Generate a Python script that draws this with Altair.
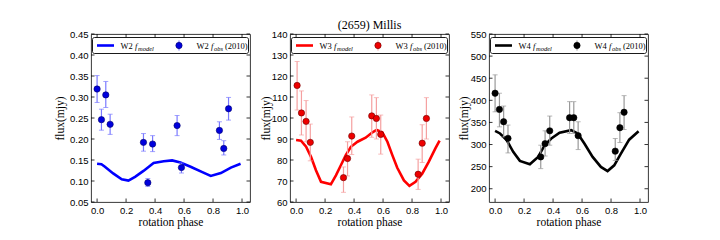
import altair as alt
import pandas as pd

# ---------------- data ----------------
w2_phase = [0.0, 0.03, 0.06, 0.09, 0.32, 0.35, 0.383, 0.552, 0.582, 0.844, 0.874, 0.907]
w2_flux = [0.319, 0.246, 0.305, 0.235, 0.192, 0.096, 0.188, 0.232, 0.132, 0.2205, 0.1775, 0.272]
w2_hi = [0.351, 0.271, 0.337, 0.259, 0.213, 0.106, 0.208, 0.256, 0.143, 0.241, 0.196, 0.299]
w2_lo = [0.287, 0.221, 0.275, 0.211, 0.171, 0.087, 0.170, 0.208, 0.119, 0.199, 0.162, 0.245]
w2_model_phase = [0.0, 0.03, 0.054, 0.111, 0.17, 0.216, 0.262, 0.32, 0.39, 0.46, 0.518, 0.575, 0.645, 0.726, 0.784, 0.854, 0.923, 0.99]
w2_model_flux = [0.141, 0.140, 0.134, 0.118, 0.104, 0.101, 0.110, 0.124, 0.143, 0.147, 0.149, 0.144, 0.134, 0.121, 0.112, 0.119, 0.132, 0.141]

w3_phase = [0.007, 0.037, 0.069, 0.098, 0.327, 0.355, 0.384, 0.522, 0.554, 0.584, 0.842, 0.87, 0.899]
w3_flux = [115.5, 102.4, 98.4, 88.4, 71.6, 80.7, 91.4, 101.0, 99.8, 92.2, 73.2, 88.0, 99.8]
w3_hi = [126.9, 112.9, 108.3, 97.1, 76.7, 88.7, 100.5, 111.0, 109.7, 101.4, 80.4, 96.8, 109.7]
w3_lo = [103.8, 91.9, 88.7, 79.6, 64.6, 72.4, 82.6, 90.8, 90.0, 82.8, 66.0, 78.8, 90.0]
w3_model_phase = [0.0, 0.034, 0.069, 0.103, 0.137, 0.172, 0.24, 0.275, 0.309, 0.343, 0.378, 0.424, 0.48, 0.527, 0.556, 0.595, 0.63, 0.664, 0.698, 0.744, 0.782, 0.824, 0.87, 0.915, 0.961, 0.99]
w3_model_flux = [89.5, 89.2, 86.3, 81.5, 75.1, 69.6, 68.4, 72.7, 77.5, 82.3, 86.3, 88.7, 90.6, 93.2, 94.3, 93.2, 88.7, 82.3, 76.3, 70.3, 67.7, 69.6, 73.5, 79.1, 85.5, 89.2]

w4_phase = [0.0, 0.03, 0.059, 0.089, 0.315, 0.345, 0.377, 0.514, 0.543, 0.573, 0.829, 0.861, 0.89]
w4_flux = [416, 379.5, 351.5, 314, 272, 302, 331, 360.6, 360.6, 320, 285, 338, 373]
w4_hi = [457.6, 416, 387, 344, 298.5, 331, 364.4, 397, 397, 351.5, 313.6, 372, 410.6]
w4_lo = [374, 340, 317, 281, 245.5, 274, 298.5, 325, 325, 288.6, 264, 304.5, 334]
w4_model_phase = [0.0, 0.034, 0.08, 0.125, 0.171, 0.24, 0.297, 0.342, 0.388, 0.445, 0.525, 0.57, 0.616, 0.673, 0.73, 0.776, 0.822, 0.868, 0.925, 0.99]
w4_model_flux = [331, 325, 310, 283.4, 263, 255.3, 272, 298.5, 313.6, 326.6, 332.5, 325, 302.3, 272, 249.3, 240, 253, 279.5, 311, 330]

x_ticks = [0.0, 0.2, 0.4, 0.6, 0.8, 1.0]
w2_yticks = [0.05, 0.10, 0.15, 0.20, 0.25, 0.30, 0.35, 0.40, 0.45]
w3_yticks = [60, 70, 80, 90, 100, 110, 120, 130, 140]
w4_yticks = [200, 250, 300, 350, 400, 450, 500, 550]

SERIF = "Liberation Serif"
SANS = "Liberation Sans"
W = 159
H = 168
XDOM = [-0.042, 1.055]


def one(v):
    return alt.Data(values=[{"k": v}])


def panel(band, ph, fl, lo, hi, mph, mfl, ydom, yticks, yfmt,
          line_color, pt_fill, pt_stroke, err_color, ext, title=None):
    obs = pd.DataFrame({"phase": ph, "flux": fl, "lo": lo, "hi": hi})
    model = pd.DataFrame({"phase": mph, "flux": mfl})
    xs = alt.Scale(domain=XDOM, nice=False, zero=False)
    ys = alt.Scale(domain=ydom, nice=False, zero=False)
    xaxis = alt.Axis(values=x_ticks, format=".1f", ticks=False, domain=False, grid=False,
                     labelPadding=3, labelFont=SANS, labelFontSize=9.5, labelColor="black",
                     title="rotation phase", titleFont=SERIF, titleFontSize=11.5,
                     titleFontWeight="normal", titleColor="black", titlePadding=2)
    yaxis = alt.Axis(values=yticks, format=yfmt, ticks=False, domain=False, grid=False,
                     labelPadding=3, labelFont=SANS, labelFontSize=9.5, labelColor="black",
                     title="flux(mjy)", titleFont=SERIF, titleFontSize=11.5,
                     titleFontWeight="normal", titleColor="black", titlePadding=3,
                     minExtent=ext, maxExtent=ext)

    def X(f):
        return alt.X(f, scale=xs, axis=xaxis, title="rotation phase")

    def Y(f):
        return alt.Y(f, scale=ys, axis=yaxis, title="flux(mjy)")

    line = alt.Chart(model).mark_line(color=line_color, strokeWidth=2.6).encode(
        x=X("phase:Q"), y=Y("flux:Q"))
    err = alt.Chart(obs).mark_rule(color=err_color, strokeWidth=1.2).encode(
        x=X("phase:Q"), y=Y("lo:Q"), y2="hi:Q")
    cap_lo = alt.Chart(obs).mark_tick(color=err_color, orient="horizontal", size=5, thickness=1).encode(
        x=X("phase:Q"), y=Y("lo:Q"))
    cap_hi = alt.Chart(obs).mark_tick(color=err_color, orient="horizontal", size=5, thickness=1).encode(
        x=X("phase:Q"), y=Y("hi:Q"))
    pts = alt.Chart(obs).mark_point(filled=True, shape="circle", size=40, fill=pt_fill,
                                    stroke=pt_stroke, strokeWidth=0.6, opacity=1).encode(
        x=X("phase:Q"), y=Y("flux:Q"))

    # inward ticks on all four sides
    ytk = pd.DataFrame({"v": yticks})
    xtk = pd.DataFrame({"v": x_ticks})
    tl = 3.5
    t_left = alt.Chart(ytk).mark_rule(color="black", strokeWidth=0.8).encode(
        y=Y("v:Q"), x=alt.value(0), x2=alt.value(tl))
    t_right = alt.Chart(ytk).mark_rule(color="black", strokeWidth=0.8).encode(
        y=Y("v:Q"), x=alt.value(W - tl), x2=alt.value(W))
    t_bot = alt.Chart(xtk).mark_rule(color="black", strokeWidth=0.8).encode(
        x=X("v:Q"), y=alt.value(H - tl), y2=alt.value(H))
    t_top = alt.Chart(xtk).mark_rule(color="black", strokeWidth=0.8).encode(
        x=X("v:Q"), y=alt.value(0), y2=alt.value(tl))

    # legend box
    ly = 11.5
    box = alt.Chart(one(0)).mark_rect(fill="white", stroke="black", strokeWidth=0.9,
                                       cornerRadius=2).encode(
        x=alt.value(1.5), x2=alt.value(W - 1.5), y=alt.value(3.5), y2=alt.value(19.5))
    lg_line = alt.Chart(one(1)).mark_rule(color=line_color, strokeWidth=2.6).encode(
        x=alt.value(6), x2=alt.value(23), y=alt.value(ly))

    def txt(v, x, y, size=8.5, style="normal"):
        return alt.Chart(one(v)).mark_text(font=SERIF, fontSize=size, fontStyle=style,
                                           align="left", baseline="alphabetic",
                                           color="black").encode(
            x=alt.value(x), y=alt.value(y), text=alt.value(v))

    t1 = txt(band, 29.5, 14.5)
    t2 = txt("f", 44, 14.5, style="italic")
    t3 = txt("model", 47, 16.5, size=6.5, style="italic")
    lg_err = alt.Chart(one(2)).mark_rule(color=err_color, strokeWidth=1.2).encode(
        x=alt.value(88), y=alt.value(6.5), y2=alt.value(16.5))
    lg_pt = alt.Chart(one(3)).mark_point(filled=True, shape="circle", size=40, fill=pt_fill,
                                         stroke=pt_stroke, strokeWidth=0.6, opacity=1).encode(
        x=alt.value(88), y=alt.value(ly))
    t4 = txt(band, 105.5, 14.5)
    t5 = txt("f", 120, 14.5, style="italic")
    t6 = txt("obs", 123, 16.5, size=6.5, style="italic")
    t7 = txt("(2010)", 134, 14.5)

    props = dict(width=W, height=H)
    if title:
        props["title"] = alt.TitleParams(title, font=SERIF, fontSize=12, fontWeight="normal",
                                         color="black", offset=3, dy=6, anchor="middle")
    return alt.layer(line, err, cap_lo, cap_hi, pts, t_left, t_right, t_bot, t_top,
                     box, lg_line, t1, t2, t3, lg_err, lg_pt, t4, t5, t6, t7).properties(**props)


p1 = panel("W2", w2_phase, w2_flux, w2_lo, w2_hi, w2_model_phase, w2_model_flux,
           [0.05, 0.45], w2_yticks, ".2f", "#0000ff", "#0000dd", "#00006a", "#7a7aff", 23)
p2 = panel("W3", w3_phase, w3_flux, w3_lo, w3_hi, w3_model_phase, w3_model_flux,
           [60, 140], w3_yticks, "d", "#ff0000", "#ee0000", "#6a0000", "#f5a0a0", 16,
           title="(2659) Millis")
p3 = panel("W4", w4_phase, w4_flux, w4_lo, w4_hi, w4_model_phase, w4_model_flux,
           [170, 550], w4_yticks, "d", "#000000", "#000000", "#000000", "#999999", 17)

chart = alt.hconcat(p1, p2, p3, spacing=40, bounds="flush").properties(
    padding={"left": 45, "top": 10, "right": 5, "bottom": 5},
    background="white",
).configure_view(stroke="#222222", strokeWidth=0.9)

chart.save("out.html", embed_options={"renderer": "svg", "actions": False})
